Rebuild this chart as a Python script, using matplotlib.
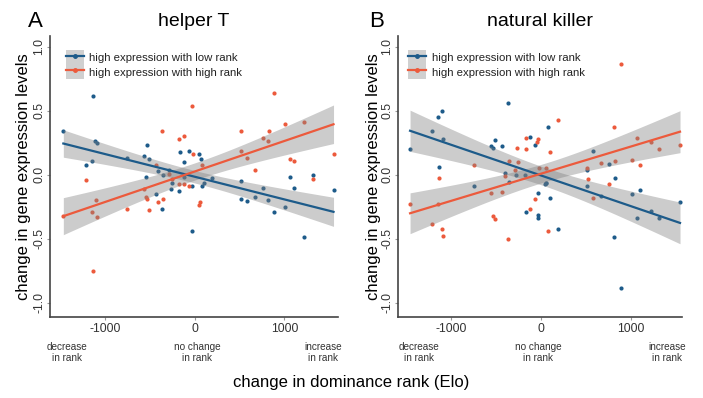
import numpy as np
import matplotlib
matplotlib.use("Agg")
import matplotlib.pyplot as plt
from matplotlib.patches import Patch
from matplotlib.lines import Line2D

plt.rcParams['font.family'] = ['Liberation Sans', 'DejaVu Sans']

# ---------------- data ----------------
titles = ["helper T", "natural killer"]
panel_letters = ["A", "B"]
series_labels = ["high expression with low rank", "high expression with high rank"]
x_ticks = [-1000, 0, 1000]
x_ticklabels = ["-1000", "0", "1000"]
y_ticks = [-1.0, -0.5, 0.0, 0.5, 1.0]
y_ticklabels = ["-1.0", "-0.5", "0.0", "0.5", "1.0"]
rank_notes = ["decrease\nin rank", "no change\nin rank", "increase\nin rank"]

# helper T, high expression with low rank (blue)
ht_low_x = [-1143, -1471, -1117, -1098, -1154, -1222, -756, -540, -566, -514, -413, -547,
            -354, -287, -436, -372, -272, -260, -175, -171, -123, -70, -126, -33, -33, 48,
            64, 186, 104, 82, 514, 756, 521, 585, 670, 816, 886, 1013, 1061, 1106, 1322,
            1550, 1221]
ht_low_y = [0.616, 0.343, 0.267, 0.25, 0.11, 0.08, 0.13, 0.23, 0.146, 0.128, 0.03, -0.014,
            -0.004, 0.037, -0.15, -0.27, -0.107, -0.066, -0.125, 0.177, 0.10, 0.19, -0.02,
            -0.087, -0.435, 0.164, 0.126, -0.027, -0.06, -0.09, -0.045, -0.10, -0.19, -0.205,
            -0.17, -0.195, -0.288, -0.25, -0.02, -0.1, 0.0, -0.12, -0.485]
# helper T, high expression with high rank (red)
ht_high_x = [-33, -372, -175, -126, -19, -436, -1222, -287, -260, -179, -123, -67, -566,
             -544, -540, -413, -354, -517, -756, -1110, -1154, -1098, -1471, -1136, 886,
             1013, 1221, 517, 827, 760, 816, 514, 585, 1061, 1106, 1550, 78, 670, 1322, 56, 45]
ht_high_y = [0.54, 0.34, 0.28, 0.306, 0.167, 0.08, -0.04, 0.01, -0.03, -0.074, -0.074, -0.09,
             -0.107, -0.17, -0.19, -0.21, -0.19, -0.275, -0.27, -0.195, -0.29, -0.33, -0.32,
             -0.753, 0.64, 0.397, 0.41, 0.34, 0.34, 0.285, 0.267, 0.19, 0.13, 0.125, 0.105,
             0.16, 0.074, 0.037, -0.035, -0.215, -0.236]

# natural killer, high expression with low rank (blue)
nk_low_x = [-363, -1141, -1097, -1208, -1086, -1452, -1127, -556, -530, -508, -427, -745,
            -400, -348, -274, -171, -119, -63, 85, -26, -167, -30, -30, 55, 585, 756, 518,
            826, 518, 62, 51, 674, 1011, 1107, 103, 1548, 1222, 1318, 1067, 192, 818, 889]
nk_low_y = [0.56, 0.456, 0.50, 0.345, 0.283, 0.2, 0.058, 0.229, 0.208, 0.273, 0.223, -0.087,
            0.017, -0.053, 0.0, 0.0, 0.293, 0.236, 0.374, -0.143, -0.29, -0.314, -0.337, -0.06,
            0.19, 0.087, 0.037, -0.022, -0.087, -0.06, -0.074, -0.164, -0.146, -0.118, -0.18,
            -0.213, -0.283, -0.335, -0.34, -0.423, -0.482, -0.88]
# natural killer, high expression with high rank (red)
nk_high_x = [-163, -30, -37, -263, -167, -745, -348, -252, -282, -400, -1127, -1452, -1141,
             -556, -427, -60, -115, -530, -504, -1208, -1093, -1086, -363, 81, 889, 192, 818,
             103, 1067, 1222, 1318, 1548, 674, 829, 1011, 1107, 518, 62, -19, 522, 759, 585]
nk_high_y = [0.29, 0.28, 0.26, 0.21, 0.205, 0.074, 0.112, 0.1, 0.037, -0.012, -0.024, -0.23,
             -0.23, -0.143, -0.13, -0.19, -0.267, -0.32, -0.345, -0.38, -0.42, -0.48, -0.5,
             -0.44, 0.87, 0.43, 0.378, 0.18, 0.285, 0.257, 0.2, 0.234, 0.094, 0.112, 0.117,
             0.079, 0.053, 0.05, 0.056, -0.03, -0.074, -0.182]

panels = [
    ((ht_low_x, ht_low_y), (ht_high_x, ht_high_y)),
    ((nk_low_x, nk_low_y), (nk_high_x, nk_high_y)),
]

BLUE = "#1d5b8a"
RED = "#ec5a3c"
TXT = "#333333"

W, H = 703, 398
fig = plt.figure(figsize=(W / 100, H / 100), dpi=100)

ax_px = [(50, 36, 338, 317), (398, 36, 682, 317)]
xlims = [(-1620, 1600), (-1586, 1570)]
note_x = [[-1430, 22, 1430], [-1352, -30, 1403]]
ylabel_x = [-0.066, -0.060]
letter_x = [-0.052, -0.077]
legend_x = [0.028, 0.008]


def fit_band(x, y, ax, color):
    x = np.asarray(x, float)
    y = np.asarray(y, float)
    n = len(x)
    b, a = np.polyfit(x, y, 1)
    xs = np.linspace(x.min(), x.max(), 200)
    yhat = a + b * xs
    resid = y - (a + b * x)
    s = np.sqrt(np.sum(resid ** 2) / (n - 2))
    se = s * np.sqrt(1.0 / n + (xs - x.mean()) ** 2 / np.sum((x - x.mean()) ** 2))
    t = 2.02
    ax.fill_between(xs, yhat - t * se, yhat + t * se, color="#808080", alpha=0.4,
                    linewidth=0, zorder=2)
    ax.plot(xs, yhat, color=color, lw=1.6, zorder=3)


for i, (low, high) in enumerate(panels):
    l, t_, r, b_ = ax_px[i]
    ax = fig.add_axes([l / W, (H - b_) / H, (r - l) / W, (b_ - t_) / H])
    for (xv, yv), col in ((low, BLUE), (high, RED)):
        ax.scatter(xv, yv, s=9, color=col, linewidths=0, zorder=1)
    for (xv, yv), col in ((low, BLUE), (high, RED)):
        fit_band(xv, yv, ax, col)

    ax.set_xlim(*xlims[i])
    ax.set_ylim(-1.11, 1.085)
    ax.set_xticks(x_ticks)
    ax.set_xticklabels(x_ticklabels)
    ax.set_yticks(y_ticks)
    ax.set_yticklabels(y_ticklabels, rotation=90, va="center")
    for sp in ("top", "right"):
        ax.spines[sp].set_visible(False)
    for sp in ("left", "bottom"):
        ax.spines[sp].set_color("#444444")
        ax.spines[sp].set_linewidth(1.2)
    ax.tick_params(axis="both", length=2, width=0.8, color="#999999",
                   labelsize=8.8, labelcolor=TXT, pad=2.5)
    ax.tick_params(axis="y", pad=1.5)

    ax.set_ylabel("change in gene expression levels", fontsize=12, color="black")
    ax.yaxis.set_label_coords(ylabel_x[i], 0.5)

    ax.text(0.5, 1.05, titles[i], transform=ax.transAxes, ha="center", va="center",
            fontsize=14)
    ax.text(letter_x[i], 1.05, panel_letters[i], transform=ax.transAxes, ha="center",
            va="center", fontsize=16)

    trans = matplotlib.transforms.blended_transform_factory(ax.transData, ax.transAxes)
    for xn, note in zip(note_x[i], rank_notes):
        ax.text(xn, -0.088, note, transform=trans, ha="center", va="top", fontsize=7.2,
                color=TXT, linespacing=1.15)

    handles = [
        (Patch(facecolor="#d0d0d0", edgecolor="none"),
         Line2D([], [], color=BLUE, lw=1.6, marker="o", markersize=2.5)),
        (Patch(facecolor="#d0d0d0", edgecolor="none"),
         Line2D([], [], color=RED, lw=1.6, marker="o", markersize=2.5)),
    ]
    leg = ax.legend(handles, series_labels, loc="upper left",
                    bbox_to_anchor=(legend_x[i], 0.978), frameon=False, fontsize=8.2,
                    handlelength=1.6, handleheight=1.6, labelspacing=0.0,
                    handletextpad=0.45, borderpad=0.2)
    for txt in leg.get_texts():
        txt.set_color("#222222")

fig.text(0.5, (H - 382) / H, "change in dominance rank (Elo)", ha="center", va="center",
         fontsize=12)

fig.savefig("out.png", dpi=100)
